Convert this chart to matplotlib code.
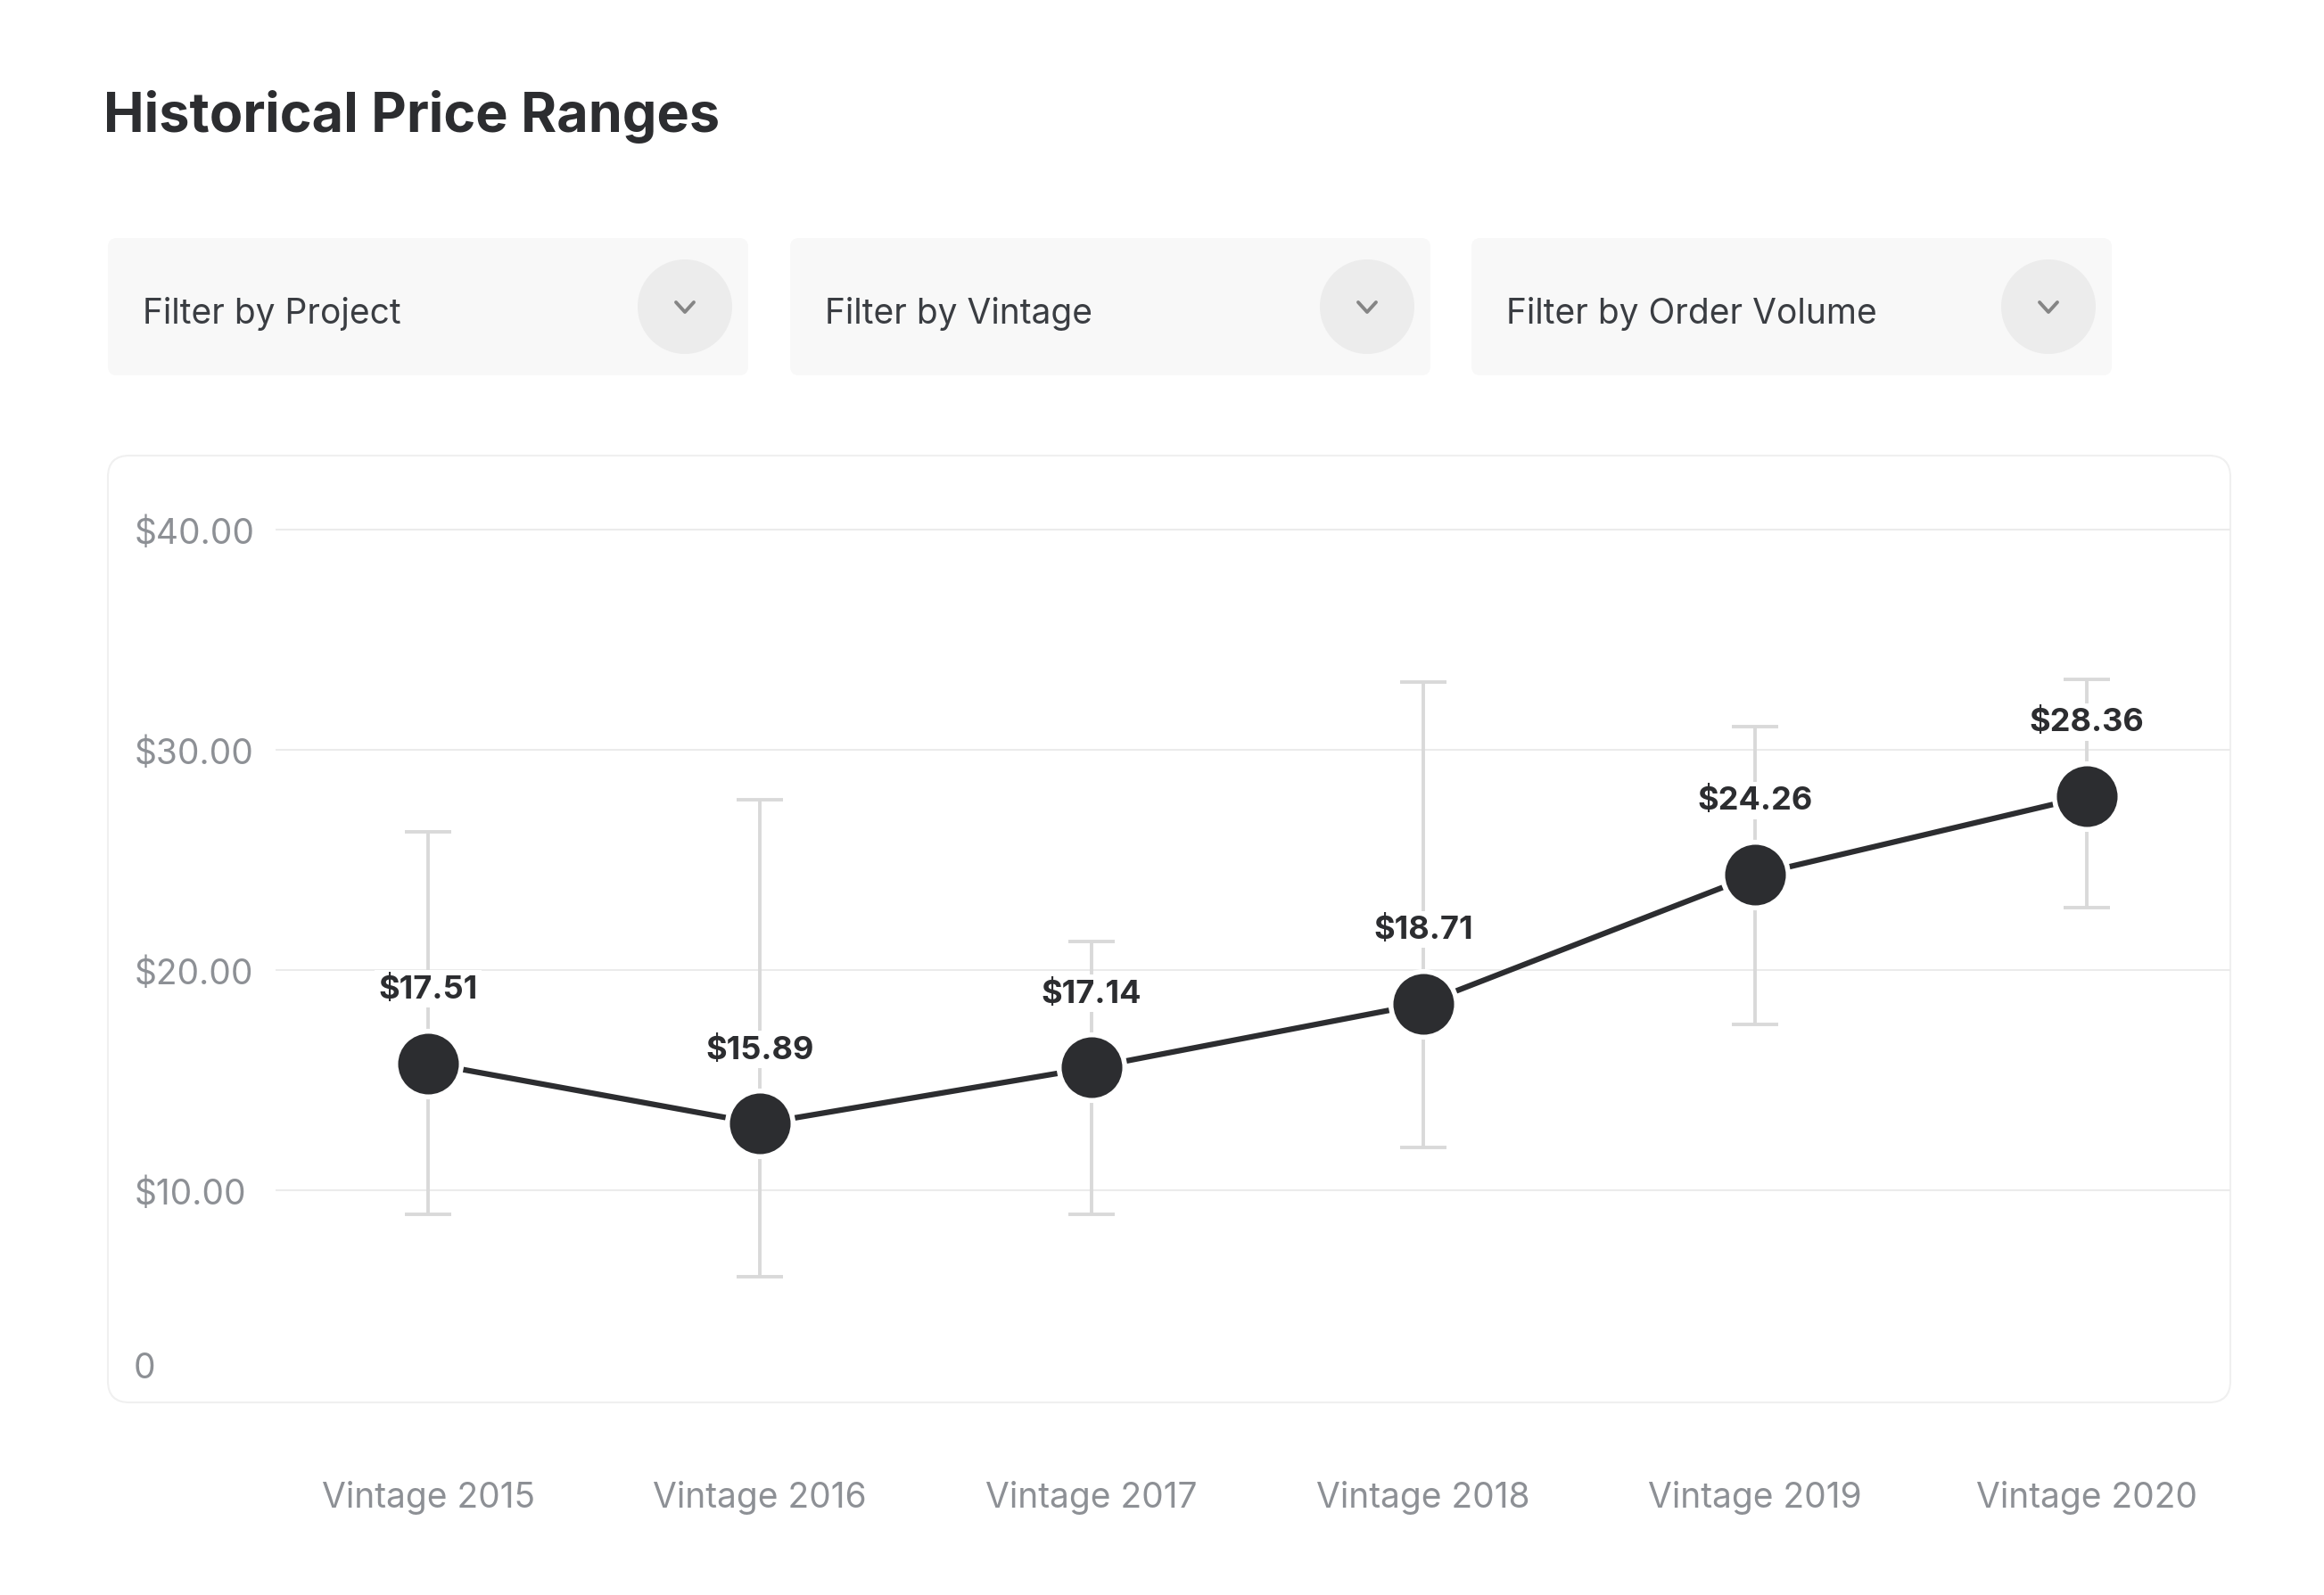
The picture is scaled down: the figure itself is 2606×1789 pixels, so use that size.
import matplotlib.pyplot as plt
from matplotlib.patches import FancyBboxPatch, Circle

plt.rcParams['font.family'] = ['Inter', 'DejaVu Sans']

# Data
vintages = ['Vintage 2015', 'Vintage 2016', 'Vintage 2017',
            'Vintage 2018', 'Vintage 2019', 'Vintage 2020']
avg_price = [15.78, 13.03, 15.58, 18.48, 24.33, 27.89]     # where the dots sit
price_labels = [17.51, 15.89, 17.14, 18.71, 24.26, 28.36]  # printed above the dots
price_low = [8.92, 6.10, 8.92, 11.95, 17.53, 22.85]
price_high = [26.28, 27.76, 21.30, 33.07, 31.05, 33.21]
y_ticks = [10, 20, 30, 40]
filters = ['Filter by Project', 'Filter by Vintage', 'Filter by Order Volume']

W, H = 2606, 1790
DARK = '#2c2d30'
GREY = '#8d9095'

fig = plt.figure(figsize=(W / 100, H / 100), dpi=100)
fig.patch.set_facecolor('white')

# background layer in pixel units (y down)
bg = fig.add_axes([0, 0, 1, 1], zorder=0)
bg.set_xlim(0, W)
bg.set_ylim(H, 0)
bg.axis('off')

bg.text(116, 148, 'Historical Price Ranges', fontsize=44, fontweight='bold',
        color=DARK, ha='left', va='baseline')

# filter dropdowns
box_left = [121, 886, 1650]
box_w, box_top, box_h = 718, 268, 154
for bx, label in zip(box_left, filters):
    bg.add_patch(FancyBboxPatch((bx, box_top), box_w, box_h,
                                boxstyle='round,pad=0,rounding_size=10',
                                facecolor='#f8f8f8', edgecolor='none'))
    cx, cy = bx + box_w - 71, box_top + box_h / 2
    bg.add_patch(Circle((cx, cy), 53, facecolor='#ececec', edgecolor='none'))
    bg.plot([cx - 10, cx, cx + 10], [cy - 5, cy + 6, cy - 5], color='#858585',
            lw=2.8, solid_capstyle='round', solid_joinstyle='round')
    bg.text(bx + 39, cy + 7, label, fontsize=28, color='#3a3d42',
            ha='left', va='center')

# chart card
bg.add_patch(FancyBboxPatch((121, 512), 2380, 1062,
                            boxstyle='round,pad=0,rounding_size=24',
                            facecolor='white', edgecolor='#f0f0f0', lw=1.5))

# main chart
ax_l, ax_r, ax_t, ax_b = 309, 2501, 512, 1574
ax = fig.add_axes([ax_l / W, 1 - ax_b / H, (ax_r - ax_l) / W, (ax_b - ax_t) / H],
                  zorder=1)
ax.patch.set_alpha(0)
x = list(range(len(vintages)))

err = [[m - lo for m, lo in zip(avg_price, price_low)],
       [hi - m for m, hi in zip(avg_price, price_high)]]
ax.errorbar(x, avg_price, yerr=err, fmt='none', ecolor='#d9d9d9',
            elinewidth=2.8, capsize=19, capthick=2.8, zorder=1)
ax.plot(x, avg_price, color=DARK, lw=4.5, zorder=2)
ax.plot(x, avg_price, 'o', ms=53, mfc=DARK, mec='white', mew=4, zorder=3)

for xi, yi, lab in zip(x, avg_price, price_labels):
    ax.annotate(f'${lab:.2f}', (xi, yi), xytext=(0, 60), textcoords='offset points',
                ha='center', va='center', fontsize=26, fontweight='bold', color=DARK,
                bbox=dict(facecolor='white', edgecolor='none', pad=3), zorder=4)

ax.set_xlim(-0.460, 5.433)
ax.set_ylim(0.381, 43.363)
ax.set_yticks(y_ticks)
ax.set_yticklabels([f'${v:.2f}' for v in y_ticks])
ax.set_xticks(x)
ax.set_xticklabels(vintages)
ax.grid(axis='y', color='#ebebeb', lw=1.5)
ax.set_axisbelow(True)
for s in ax.spines.values():
    s.set_visible(False)
ax.tick_params(axis='y', length=0, pad=114, labelsize=28, labelcolor=GREY)
for t in ax.get_yticklabels():
    t.set_horizontalalignment('left')
ax.tick_params(axis='x', length=0, pad=63, labelsize=28, labelcolor=GREY)
ax.text(-0.0725, 0.036, '0', transform=ax.transAxes, ha='left', va='center',
        fontsize=28, color=GREY)

fig.savefig('out.png', dpi=100)
